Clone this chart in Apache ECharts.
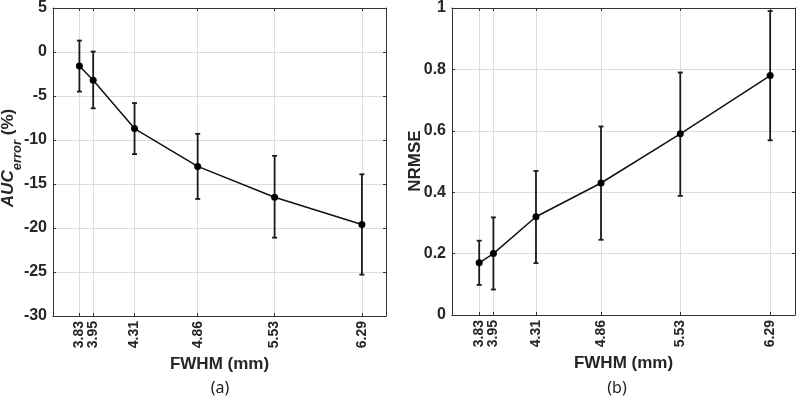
<!DOCTYPE html>
<html>
<head>
<meta charset="utf-8">
<script src="https://cdn.jsdelivr.net/npm/echarts@6/dist/echarts.min.js"></script>
<style>
  html, body { margin: 0; padding: 0; background: #fff; }
  #chart { width: 797px; height: 397px; }
</style>
</head>
<body>
<div id="chart"></div>
<script>
// FWHM values (mm), shared by both panels
const fwhm = [3.83, 3.95, 4.31, 4.86, 5.53, 6.29]

// (a) AUC error (%)
const aucMean = [-1.6, -3.2, -8.7, -13.0, -16.5, -19.6]
const aucLow = [-4.5, -6.4, -11.6, -16.7, -21.1, -25.3]
const aucHigh = [1.3, 0.05, -5.8, -9.3, -11.8, -13.9]

// (b) NRMSE
const nrmseMean = [0.17, 0.20, 0.32, 0.43, 0.59, 0.78]
const nrmseLow = [0.098, 0.083, 0.169, 0.245, 0.388, 0.569]
const nrmseHigh = [0.242, 0.318, 0.469, 0.614, 0.79, 0.99]

const aucTicks = [-30, -25, -20, -15, -10, -5, 0, 5]
const nrmseTicks = [0, 0.2, 0.4, 0.6, 0.8, 1]

const axisColor = '#333'
const textColor = '#262626'
const font = '"Liberation Sans", Arial, sans-serif'

const chart = echarts.init(document.getElementById('chart'))

function errorBars (params, api) {
  const x = api.value(0)
  const top = api.coord([x, api.value(2)])
  const bot = api.coord([x, api.value(1)])
  const w = 2.5
  const style = { stroke: '#1a1a1a', lineWidth: 1.8 }
  return {
    type: 'group',
    children: [
      { type: 'line', shape: { x1: top[0], y1: top[1], x2: bot[0], y2: bot[1] }, style },
      { type: 'line', shape: { x1: top[0] - w, y1: top[1], x2: top[0] + w, y2: top[1] }, style },
      { type: 'line', shape: { x1: bot[0] - w, y1: bot[1], x2: bot[0] + w, y2: bot[1] }, style }
    ]
  }
}

const xLabelStyle = {
  rotate: 90,
  margin: 5,
  hideOverlap: false,
  showMinLabel: true,
  showMaxLabel: true,
  fontFamily: font,
  fontWeight: 'bold',
  fontSize: 14,
  color: textColor,
  formatter: (v) => v.toFixed(2)
}

// main bottom axis: grid lines, ticks, name and all labels but the first
function bottomX (gridIndex) {
  return {
    type: 'value',
    gridIndex,
    min: 3.6,
    max: 6.5,
    position: 'bottom',
    name: 'FWHM (mm)',
    nameLocation: 'middle',
    nameGap: 38,
    nameTextStyle: { fontFamily: font, fontWeight: 'bold', fontSize: 17, color: textColor },
    axisLine: { show: true, onZero: false, lineStyle: { color: axisColor, width: 1 } },
    axisTick: { show: true, inside: true, length: 3, customValues: fwhm, lineStyle: { color: axisColor } },
    axisLabel: Object.assign({ customValues: fwhm.slice(1) }, xLabelStyle),
    splitLine: { show: true, lineStyle: { color: '#dcdcdc', width: 1 } }
  }
}

// the first label sits on its own axis so it is not dropped for crowding
function firstLabelX (gridIndex) {
  return {
    type: 'value',
    gridIndex,
    min: 3.6,
    max: 6.5,
    position: 'bottom',
    axisLine: { show: false, onZero: false },
    axisTick: { show: false },
    axisLabel: Object.assign({ customValues: fwhm.slice(0, 1) }, xLabelStyle),
    splitLine: { show: false }
  }
}

function topX (gridIndex) {
  return {
    type: 'value',
    gridIndex,
    min: 3.6,
    max: 6.5,
    position: 'top',
    axisLine: { show: true, onZero: false, lineStyle: { color: axisColor, width: 1 } },
    axisTick: { show: true, inside: true, length: 3, customValues: fwhm, lineStyle: { color: axisColor } },
    axisLabel: { show: false },
    splitLine: { show: false }
  }
}

function leftY (gridIndex, min, max, interval, fmt) {
  return {
    type: 'value',
    gridIndex,
    min,
    max,
    interval,
    position: 'left',
    axisLine: { show: true, onZero: false, lineStyle: { color: axisColor, width: 1 } },
    axisTick: { show: true, inside: true, length: 3, lineStyle: { color: axisColor } },
    axisLabel: { margin: 6, fontFamily: font, fontWeight: 'bold', fontSize: 16, color: textColor, formatter: fmt },
    splitLine: { show: true, lineStyle: { color: '#dcdcdc', width: 1 } }
  }
}

function rightY (gridIndex, min, max, interval) {
  return {
    type: 'value',
    gridIndex,
    min,
    max,
    interval,
    position: 'right',
    axisLine: { show: true, onZero: false, lineStyle: { color: axisColor, width: 1 } },
    axisTick: { show: true, inside: true, length: 3, lineStyle: { color: axisColor } },
    axisLabel: { show: false },
    splitLine: { show: false }
  }
}

const option = {
  animation: false,
  backgroundColor: '#fff',
  grid: [
    { left: 53, top: 5, width: 333, height: 311 },
    { left: 452, top: 6, width: 343, height: 309 }
  ],
  xAxis: [bottomX(0), topX(0), firstLabelX(0), bottomX(1), topX(1), firstLabelX(1)],
  yAxis: [
    leftY(0, aucTicks[0], aucTicks[aucTicks.length - 1], 5, (v) => String(v)),
    rightY(0, aucTicks[0], aucTicks[aucTicks.length - 1], 5),
    leftY(1, nrmseTicks[0], nrmseTicks[nrmseTicks.length - 1], 0.2, (v) => String(+v.toFixed(1))),
    rightY(1, nrmseTicks[0], nrmseTicks[nrmseTicks.length - 1], 0.2)
  ],
  graphic: [
    {
      type: 'text',
      x: 12,
      y: 158,
      rotation: Math.PI / 2,
      style: {
        text: '{i|AUC}{s|error}{b| (%)}',
        align: 'center',
        verticalAlign: 'middle',
        fill: textColor,
        rich: {
          i: { fontFamily: font, fontWeight: 'bold', fontStyle: 'italic', fontSize: 17, lineHeight: 24, verticalAlign: 'top', fill: textColor },
          s: { fontFamily: font, fontWeight: 'bold', fontStyle: 'italic', fontSize: 13, lineHeight: 24, verticalAlign: 'bottom', fill: textColor },
          b: { fontFamily: font, fontWeight: 'bold', fontSize: 17, lineHeight: 24, verticalAlign: 'top', fill: textColor }
        }
      }
    },
    {
      type: 'text',
      x: 415,
      y: 161,
      rotation: Math.PI / 2,
      style: {
        text: 'NRMSE',
        align: 'center',
        verticalAlign: 'middle',
        fill: textColor,
        fontFamily: font,
        fontWeight: 'bold',
        fontSize: 17
      }
    },
    {
      type: 'text',
      x: 220,
      y: 388,
      style: { text: '(a)', align: 'center', verticalAlign: 'middle', fill: '#222', fontFamily: '"Noto Sans", sans-serif', fontSize: 16 }
    },
    {
      type: 'text',
      x: 617,
      y: 388,
      style: { text: '(b)', align: 'center', verticalAlign: 'middle', fill: '#222', fontFamily: '"Noto Sans", sans-serif', fontSize: 16 }
    }
  ],
  series: [
    {
      type: 'custom',
      xAxisIndex: 0,
      yAxisIndex: 0,
      renderItem: errorBars,
      encode: { x: 0, y: [1, 2] },
      data: fwhm.map((x, i) => [x, aucLow[i], aucHigh[i]]),
      z: 2
    },
    {
      type: 'line',
      xAxisIndex: 0,
      yAxisIndex: 0,
      data: fwhm.map((x, i) => [x, aucMean[i]]),
      symbol: 'circle',
      symbolSize: 7,
      itemStyle: { color: '#000' },
      lineStyle: { color: '#111', width: 1.5 },
      z: 3
    },
    {
      type: 'custom',
      xAxisIndex: 3,
      yAxisIndex: 2,
      renderItem: errorBars,
      encode: { x: 0, y: [1, 2] },
      data: fwhm.map((x, i) => [x, nrmseLow[i], nrmseHigh[i]]),
      z: 2
    },
    {
      type: 'line',
      xAxisIndex: 3,
      yAxisIndex: 2,
      data: fwhm.map((x, i) => [x, nrmseMean[i]]),
      symbol: 'circle',
      symbolSize: 7,
      itemStyle: { color: '#000' },
      lineStyle: { color: '#111', width: 1.5 },
      z: 3
    }
  ]
}

chart.setOption(option)
</script>
</body>
</html>
